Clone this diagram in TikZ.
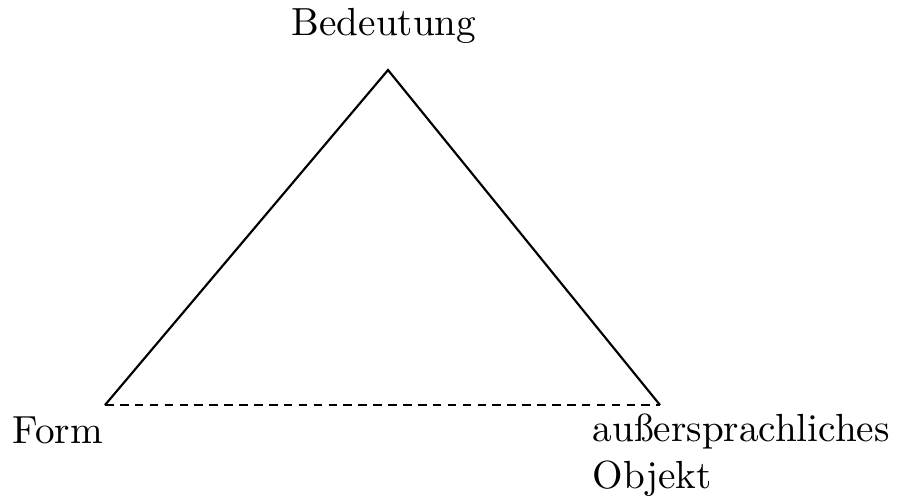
\documentclass[tikz,border=0pt]{standalone}
\usepackage{tikz}
\usetikzlibrary{positioning}

\begin{document}
\begin{tikzpicture}[x=0.255pt,y=-0.255pt,
    leg/.style={line width=0.55pt},
    dashleg/.style={line width=0.55pt,dash pattern=on 2.2pt off 1.6pt},
    every node/.style={inner sep=0pt}]
  \useasboundingbox (0,0) rectangle (909,500);
  % corners of the triangle
  \coordinate (top) at (388,70);
  \coordinate (left) at (105,405);
  \coordinate (right) at (660,405);
  \draw[leg] (left) -- (top) -- (right);
  \draw[dashleg] (left) -- (right);
  % labels
  \node[anchor=base] (bed) at (384,35) {Bedeutung};
  \node[anchor=base west] (form) at (12,443) {Form};
  \node[anchor=north west,align=left] (obj) at (592,413) {au\ss ersprachliches\\Objekt};
\end{tikzpicture}
\end{document}
